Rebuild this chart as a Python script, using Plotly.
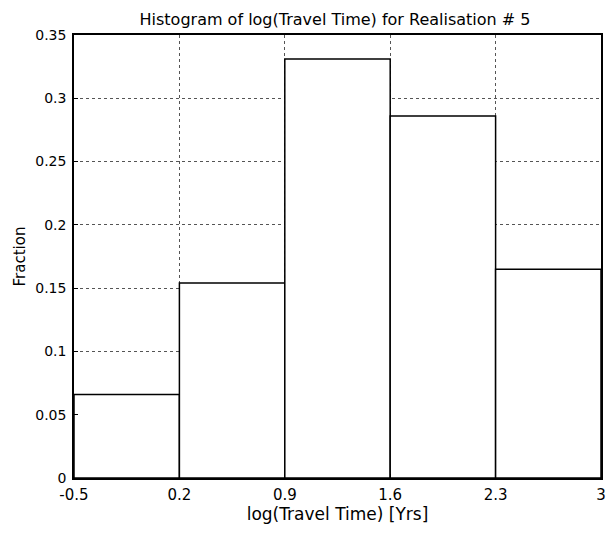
import plotly.graph_objects as go

bin_edges = [-0.5, 0.2, 0.9, 1.6, 2.3, 3.0]
fractions = [0.066, 0.154, 0.331, 0.286, 0.165]
x_ticks = [-0.5, 0.2, 0.9, 1.6, 2.3, 3.0]
x_tick_labels = ["-0.5", "0.2", "0.9", "1.6", "2.3", "3"]
y_ticks = [0, 0.05, 0.1, 0.15, 0.2, 0.25, 0.3, 0.35]
y_tick_labels = ["0", "0.05", "0.1", "0.15", "0.2", "0.25", "0.3", "0.35"]

centers = [(a + b) / 2 for a, b in zip(bin_edges[:-1], bin_edges[1:])]
widths = [b - a for a, b in zip(bin_edges[:-1], bin_edges[1:])]

font = "DejaVu Sans, Liberation Sans, sans-serif"

fig = go.Figure(go.Bar(
    x=centers, y=fractions, width=widths,
    marker=dict(color="white", line=dict(color="black", width=1.5)),
    hoverinfo="skip",
))

fig.update_layout(
    width=608, height=534,
    margin=dict(l=74, r=7, t=35, b=56, autoexpand=False),
    paper_bgcolor="white", plot_bgcolor="white",
    showlegend=False,
    font=dict(family=font, size=14, color="black"),
    title=dict(text="Histogram of log(Travel Time) for Realisation # 5",
               x=0.551, xanchor="center", y=0.963, yanchor="middle",
               font=dict(size=16, family=font, color="black")),
)
fig.update_xaxes(
    range=[-0.5, 3.0], tickmode="array", tickvals=x_ticks, ticktext=x_tick_labels,
    showline=True, linecolor="black", linewidth=1.5, mirror=True,
    ticks="inside", ticklen=4, tickcolor="black",
    ticklabeloverflow="allow", ticklabelstandoff=2,
    tickfont=dict(size=15),
    showgrid=True, gridcolor="#555", griddash="dot", gridwidth=1,
    zeroline=False,
    title=dict(text="log(Travel Time) [Yrs]", standoff=3, font=dict(size=17)),
)
fig.update_yaxes(
    range=[0, 0.35], tickvals=y_ticks, ticktext=y_tick_labels,
    showline=True, linecolor="black", linewidth=1.5, mirror=True,
    ticks="inside", ticklen=4, tickcolor="black",
    ticklabeloverflow="allow", ticklabelstandoff=3,
    tickfont=dict(size=14),
    showgrid=True, gridcolor="#555", griddash="dot", gridwidth=1,
    zeroline=False,
    title=dict(text="Fraction", standoff=6, font=dict(size=15)),
)

fig.write_html(
    "out.html",
    config={"displayModeBar": False},
    post_script="document.body.style.margin='0';document.body.style.overflow='hidden';",
)
